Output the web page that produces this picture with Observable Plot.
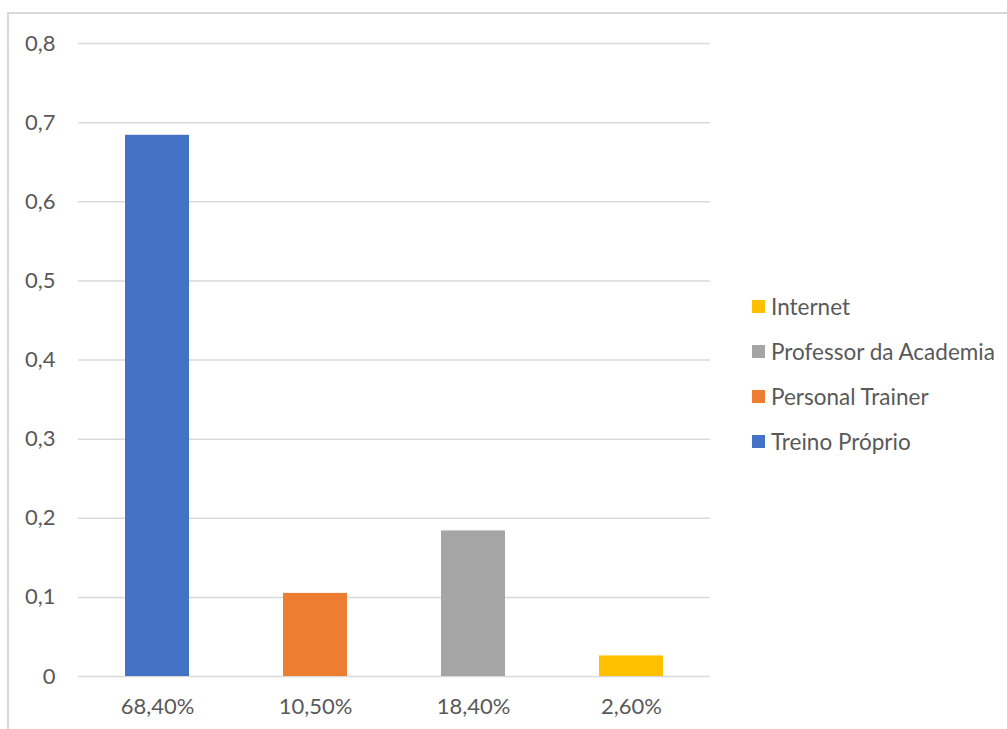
<!DOCTYPE html>
<html><head><meta charset="utf-8">
<script src="https://cdn.jsdelivr.net/npm/d3@7"></script>
<script src="https://cdn.jsdelivr.net/npm/@observablehq/plot@0.6"></script>
<style>
html,body{margin:0;padding:0;background:#fff;overflow:hidden}
#wrap{position:relative;width:1007px;height:729px;font-family:Lato,sans-serif}
#frame{position:absolute;left:7px;top:12px;width:1100px;height:800px;border:2px solid #d9d9d9;box-sizing:border-box}
#chart{position:absolute;left:0;top:0}
#legend{position:absolute;left:752px;top:284px;color:#595959;font-size:22.5px}
#legend .item{display:flex;align-items:center;height:45px;margin:0}
#legend .sw{width:13px;height:13px;margin-right:6px}
</style></head>
<body><div id="wrap"><div id="frame"></div><div id="chart"></div><div id="legend"></div></div>
<script>
const categories = ["68,40%", "10,50%", "18,40%", "2,60%"];
const series = ["Treino Próprio", "Personal Trainer", "Professor da Academia", "Internet"];
const values = [0.684, 0.105, 0.184, 0.026];
const colors = ["#4472C4", "#ED7D31", "#A5A5A5", "#FFC000"];
const yTicks = [0, 0.1, 0.2, 0.3, 0.4, 0.5, 0.6, 0.7, 0.8];
const legendOrder = ["Internet", "Professor da Academia", "Personal Trainer", "Treino Próprio"];

const data = categories.map((c, i) => ({cat: c, series: series[i], value: values[i]}));
const fmt = d => d === 0 ? "0" : d3.format(".1f")(d).replace(".", ",");

const chart = Plot.plot({
  width: 1007, height: 729,
  marginLeft: 78, marginRight: 297, marginTop: 43, marginBottom: 53,
  style: {fontFamily: "Lato, sans-serif", fontSize: "22px", color: "#595959", background: "transparent"},
  x: {domain: categories, paddingInner: 0.595, paddingOuter: 0.2975, label: null, tickSize: 0, tickPadding: 22},
  y: {domain: [0, 0.8], ticks: yTicks, tickFormat: fmt, label: null, tickSize: 0, tickPadding: 23},
  color: {domain: series, range: colors},
  marks: [
    Plot.ruleY(yTicks, {stroke: "#d9d9d9", strokeWidth: 1.5, strokeOpacity: 1}),
    Plot.barY(data, {x: "cat", y: "value", fill: "series"})
  ]
});
document.getElementById("chart").appendChild(chart);

const leg = document.getElementById("legend");
legendOrder.forEach(s => {
  const it = document.createElement("div"); it.className = "item";
  const sw = document.createElement("span"); sw.className = "sw";
  sw.style.background = colors[series.indexOf(s)];
  const t = document.createElement("span"); t.textContent = s;
  it.appendChild(sw); it.appendChild(t); leg.appendChild(it);
});
</script></body></html>
